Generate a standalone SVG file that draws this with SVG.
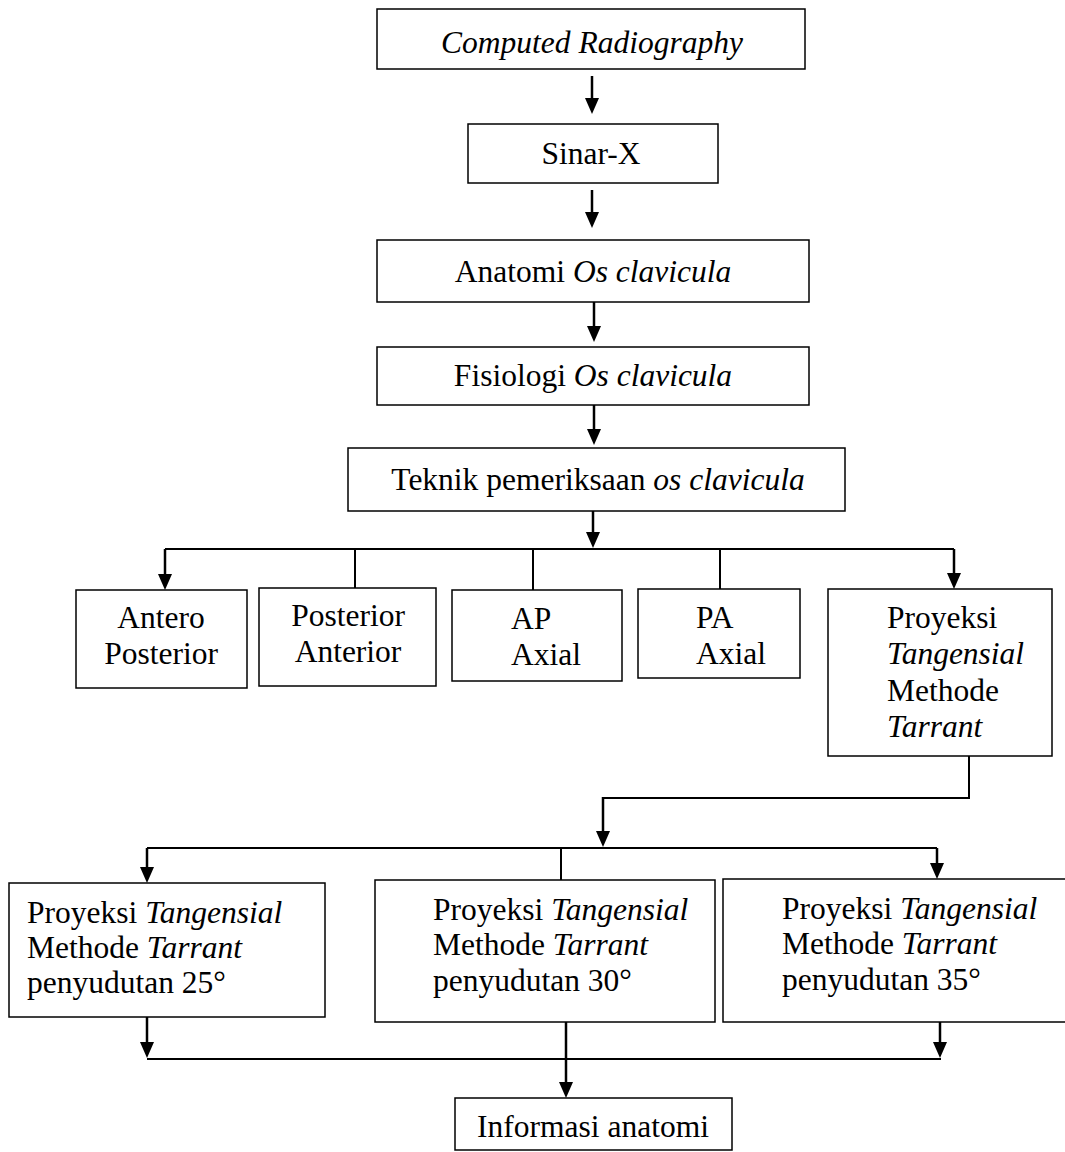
<svg xmlns="http://www.w3.org/2000/svg" width="1065" height="1152" viewBox="0 0 1065 1152">
<style>
.box{fill:#fff;stroke:#000;stroke-width:1.5}
.ln{fill:none;stroke:#000;stroke-width:2}
.ar{fill:none;stroke:#000;stroke-width:2.5;marker-end:url(#ah)}
text{font-family:"Liberation Serif","Times New Roman",serif;font-size:31.5px;fill:#000}
.c{text-anchor:middle}
.i{font-style:italic}
</style>
<defs>
<marker id="ah" markerUnits="userSpaceOnUse" viewBox="0 0 16 14" markerWidth="16" markerHeight="14" refX="4" refY="7" orient="auto">
<path d="M0,0 L16,7 L0,14 z" fill="#000"/>
</marker>
</defs>
<rect width="1065" height="1152" fill="#fff"/>
<g id="connectors">
<line class="ar" x1="592" y1="76" x2="592" y2="102"/>
<line class="ar" x1="592" y1="190" x2="592" y2="216"/>
<line class="ar" x1="594" y1="302" x2="594" y2="330"/>
<line class="ar" x1="594" y1="405" x2="594" y2="433"/>
<line class="ar" x1="593" y1="511" x2="593" y2="536"/>
<line class="ln" x1="165" y1="549" x2="954" y2="549"/>
<line class="ar" x1="165" y1="549" x2="165" y2="578"/>
<line class="ar" x1="954" y1="549" x2="954" y2="577"/>
<line class="ln" x1="355" y1="549" x2="355" y2="588"/>
<line class="ln" x1="533" y1="549" x2="533" y2="590"/>
<line class="ln" x1="720" y1="549" x2="720" y2="589"/>
<path class="ln" d="M969,756 V798 H603"/>
<line class="ar" x1="603" y1="797" x2="603" y2="835"/>
<line class="ln" x1="147" y1="848" x2="937" y2="848"/>
<line class="ar" x1="147" y1="848" x2="147" y2="871"/>
<line class="ar" x1="937" y1="848" x2="937" y2="867"/>
<line class="ln" x1="561" y1="848" x2="561" y2="880"/>
<line class="ar" x1="147" y1="1017" x2="147" y2="1046"/>
<line class="ar" x1="940" y1="1022" x2="940" y2="1046"/>
<line class="ln" x1="147" y1="1059" x2="941" y2="1059"/>
<line class="ar" x1="566" y1="1022" x2="566" y2="1086"/>
</g>
<g id="n1"><rect class="box" x="377" y="9" width="428" height="60"/><text class="c i" x="592" y="53">Computed Radiography</text></g>
<g id="n2"><rect class="box" x="468" y="124" width="250" height="59"/><text class="c" x="591" y="164">Sinar-X</text></g>
<g id="n3"><rect class="box" x="377" y="240" width="432" height="62"/><text class="c" x="593" y="282">Anatomi <tspan class="i">Os clavicula</tspan></text></g>
<g id="n4"><rect class="box" x="377" y="347" width="432" height="58"/><text class="c" x="593" y="386">Fisiologi <tspan class="i">Os clavicula</tspan></text></g>
<g id="n5"><rect class="box" x="348" y="448" width="497" height="63"/><text class="c" x="598" y="490">Teknik pemeriksaan <tspan class="i">os clavicula</tspan></text></g>
<g id="n6"><rect class="box" x="76" y="590" width="171" height="98"/><text class="c" x="161" y="628">Antero</text><text class="c" x="161" y="664">Posterior</text></g>
<g id="n7"><rect class="box" x="259" y="588" width="177" height="98"/><text class="c" x="348" y="626">Posterior</text><text class="c" x="348" y="662">Anterior</text></g>
<g id="n8"><rect class="box" x="452" y="590" width="170" height="91"/><text x="511" y="629">AP</text><text x="511" y="665">Axial</text></g>
<g id="n9"><rect class="box" x="638" y="589" width="162" height="89"/><text x="696" y="628">PA</text><text x="696" y="664">Axial</text></g>
<g id="n10"><rect class="box" x="828" y="589" width="224" height="167"/><text x="887" y="628">Proyeksi</text><text class="i" x="887" y="664">Tangensial</text><text x="887" y="701">Methode</text><text class="i" x="887" y="737">Tarrant</text></g>
<g id="n11"><rect class="box" x="9" y="883" width="316" height="134"/><text x="27" y="923">Proyeksi <tspan class="i">Tangensial</tspan></text><text x="27" y="958">Methode <tspan class="i">Tarrant</tspan></text><text x="27" y="993">penyudutan 25°</text></g>
<g id="n12"><rect class="box" x="375" y="880" width="340" height="142"/><text x="433" y="920">Proyeksi <tspan class="i">Tangensial</tspan></text><text x="433" y="955">Methode <tspan class="i">Tarrant</tspan></text><text x="433" y="991">penyudutan 30°</text></g>
<g id="n13"><rect class="box" x="723" y="879" width="350" height="143"/><text x="782" y="919">Proyeksi <tspan class="i">Tangensial</tspan></text><text x="782" y="954">Methode <tspan class="i">Tarrant</tspan></text><text x="782" y="990">penyudutan 35°</text></g>
<g id="n14"><rect class="box" x="455" y="1098" width="277" height="52"/><text class="c" x="593" y="1137">Informasi anatomi</text></g>
</svg>
